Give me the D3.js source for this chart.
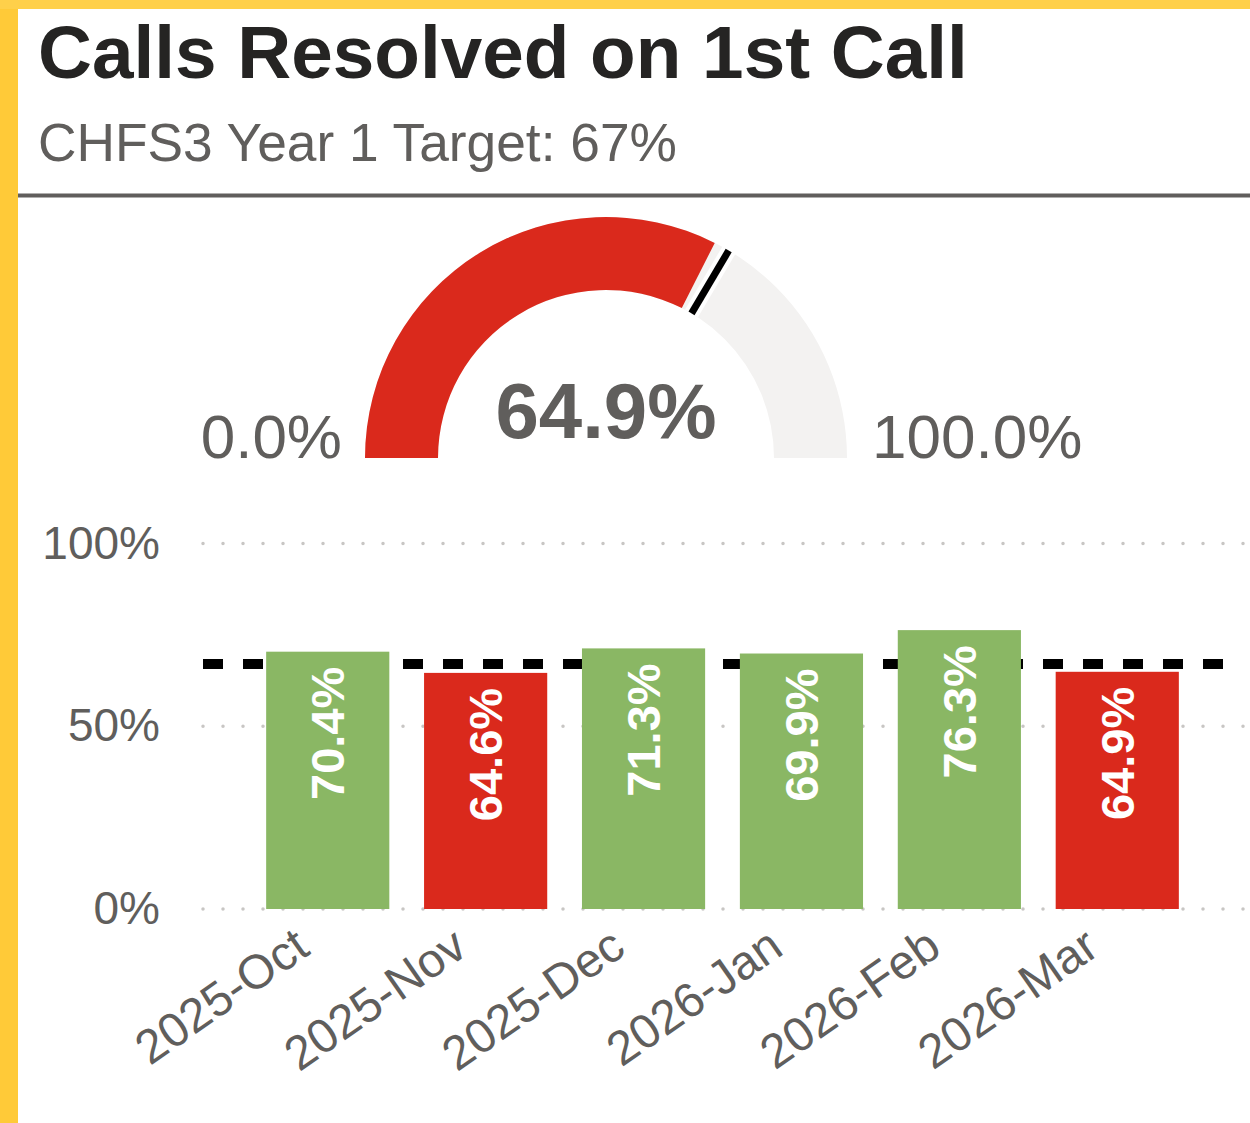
<!DOCTYPE html>
<html>
<head>
<meta charset="utf-8">
<script src="https://cdn.jsdelivr.net/npm/d3@7"></script>
<style>
  html, body { margin: 0; padding: 0; background: #fff; }
  svg { display: block; font-family: "Liberation Sans", Arial, sans-serif; }
</style>
</head>
<body>
<div id="chart"></div>
<script>
// Monthly first-call resolution rates
const months = ["2025-Oct", "2025-Nov", "2025-Dec", "2026-Jan", "2026-Feb", "2026-Mar"];
const rates = [70.4, 64.6, 71.3, 69.9, 76.3, 64.9];
const target = 67;
const yTicks = [0, 50, 100];

// Gauge values
const gaugeValue = 64.9;
const gaugeMin = 0;
const gaugeMax = 100;

const titleText = "Calls Resolved on 1st Call";
const subtitleText = "CHFS3 Year 1 Target: 67%";

let width = 1250, height = 1123;

let colors = {
	green: "#8AB764",
	red: "#DA291C",
	track: "#F3F2F1",
	text: "#605E5C",
	title: "#252423",
	grid: "#C8C6C4",
	border: "#FFCA38"
};

let svg = d3.select("#chart")
	.append("svg")
	.attr("width", width)
	.attr("height", height);

// Yellow card border (left and top)
svg.append("rect")
	.attr("x", 0).attr("y", 0)
	.attr("width", 18).attr("height", height)
	.attr("fill", colors.border);
svg.append("rect")
	.attr("x", 0).attr("y", 0)
	.attr("width", width).attr("height", 9)
	.attr("fill", "#FFD04A");

/* -------------- HEADER --------------- */
svg.append("text")
	.attr("x", 38).attr("y", 78)
	.attr("font-size", "74.7px")
	.attr("font-weight", "bold")
	.attr("fill", colors.title)
	.text(titleText);

svg.append("text")
	.attr("x", 38).attr("y", 161)
	.attr("font-size", "53.3px")
	.attr("fill", colors.text)
	.text(subtitleText);

svg.append("line")
	.attr("x1", 18).attr("x2", width)
	.attr("y1", 195.5).attr("y2", 195.5)
	.attr("stroke", colors.text)
	.attr("stroke-width", 4);

/* -------------- GAUGE --------------- */
let gauge = {cx: 606, cy: 458, outer: 241, inner: 168};

let angleScale = d3.scaleLinear()
	.domain([gaugeMin, gaugeMax])
	.range([-Math.PI / 2, Math.PI / 2]);

let arcGen = d3.arc()
	.innerRadius(gauge.inner)
	.outerRadius(gauge.outer);

let gaugeGroup = svg.append("g")
	.attr("transform", "translate(" + gauge.cx + "," + gauge.cy + ")");

gaugeGroup.append("path")
	.attr("d", arcGen({startAngle: angleScale(gaugeMin), endAngle: angleScale(gaugeMax)}))
	.attr("fill", colors.track);

gaugeGroup.append("path")
	.attr("d", arcGen({startAngle: angleScale(gaugeMin), endAngle: angleScale(gaugeValue)}))
	.attr("fill", gaugeValue >= target ? colors.green : colors.red);

// Target marker on the gauge
let tAngle = angleScale(target);
let mx = r => r * Math.sin(tAngle),
	my = r => -r * Math.cos(tAngle);

gaugeGroup.append("line")
	.attr("x1", mx(gauge.inner)).attr("y1", my(gauge.inner))
	.attr("x2", mx(gauge.outer)).attr("y2", my(gauge.outer))
	.attr("stroke", "#fff")
	.attr("stroke-width", 15);

gaugeGroup.append("line")
	.attr("x1", mx(gauge.inner)).attr("y1", my(gauge.inner))
	.attr("x2", mx(gauge.outer)).attr("y2", my(gauge.outer))
	.attr("stroke", "#000")
	.attr("stroke-width", 7);

gaugeGroup.append("text")
	.attr("x", 0).attr("y", -20)
	.attr("text-anchor", "middle")
	.attr("font-size", "78px")
	.attr("font-weight", "bold")
	.attr("fill", colors.text)
	.text(gaugeValue.toFixed(1) + "%");

gaugeGroup.append("text")
	.attr("x", -gauge.outer - 23).attr("y", 0)
	.attr("text-anchor", "end")
	.attr("font-size", "62px")
	.attr("fill", colors.text)
	.text(gaugeMin.toFixed(1) + "%");

gaugeGroup.append("text")
	.attr("x", gauge.outer + 25).attr("y", 0)
	.attr("text-anchor", "start")
	.attr("font-size", "62px")
	.attr("fill", colors.text)
	.text(gaugeMax.toFixed(1) + "%");

/* -------------- BAR CHART --------------- */
let xScale = d3.scaleBand()
	.domain(months)
	.range([203, 1242])
	.paddingInner(0.22)
	.paddingOuter(0.4);

let yScale = d3.scaleLinear()
	.domain([0, 100])
	.range([909, 543.5]);

// Dotted gridlines
svg.append("g")
	.selectAll("line")
	.data(yTicks)
	.enter()
	.append("line")
	.attr("x1", 203).attr("x2", width)
	.attr("y1", d => yScale(d)).attr("y2", d => yScale(d))
	.attr("stroke", colors.grid)
	.attr("stroke-width", 3.5)
	.attr("stroke-linecap", "round")
	.attr("stroke-dasharray", "0 20");

// Y axis labels
let yAxis = d3.axisLeft(yScale)
	.tickValues(yTicks)
	.tickSize(0)
	.tickPadding(0)
	.tickFormat(d => d + "%");

svg.append("g")
	.attr("class", "y-axis")
	.attr("transform", "translate(160,0)")
	.call(yAxis)
	.call(g => g.select(".domain").remove())
	.selectAll("text")
	.attr("font-family", "Liberation Sans, Arial, sans-serif")
	.attr("font-size", "46px")
	.attr("fill", colors.text);

// Target dashed line (behind the bars)
svg.append("line")
	.attr("x1", 203).attr("x2", 1232)
	.attr("y1", yScale(target)).attr("y2", yScale(target))
	.attr("stroke", "#000")
	.attr("stroke-width", 10)
	.attr("stroke-dasharray", "20 20");

// Bars
svg.selectAll(".bar")
	.data(rates)
	.enter()
	.append("rect")
	.attr("class", "bar")
	.attr("x", (d, i) => xScale(months[i]))
	.attr("y", d => yScale(d))
	.attr("width", xScale.bandwidth())
	.attr("height", d => yScale(0) - yScale(d))
	.attr("fill", d => d >= target ? colors.green : colors.red);

// Bar value labels (rotated)
svg.selectAll(".bar-label")
	.data(rates)
	.enter()
	.append("text")
	.attr("class", "bar-label")
	.attr("transform", (d, i) => "translate(" + (xScale(months[i]) + xScale.bandwidth() / 2) + "," + (yScale(d) + 15) + ") rotate(-90)")
	.attr("dy", "0.35em")
	.attr("text-anchor", "end")
	.attr("font-size", "47px")
	.attr("font-weight", "bold")
	.attr("fill", "#fff")
	.text(d => d.toFixed(1) + "%");

// X axis labels
let xAxis = d3.axisBottom(xScale)
	.tickSize(0)
	.tickPadding(0);

svg.append("g")
	.attr("class", "x-axis")
	.attr("transform", "translate(0,909)")
	.call(xAxis)
	.call(g => g.select(".domain").remove())
	.selectAll("text")
	.attr("font-family", "Liberation Sans, Arial, sans-serif")
	.attr("font-size", "48px")
	.attr("fill", colors.text)
	.attr("text-anchor", "end")
	.attr("dy", "0")
	.attr("transform", "translate(-16,44) rotate(-35)");
</script>
</body>
</html>
